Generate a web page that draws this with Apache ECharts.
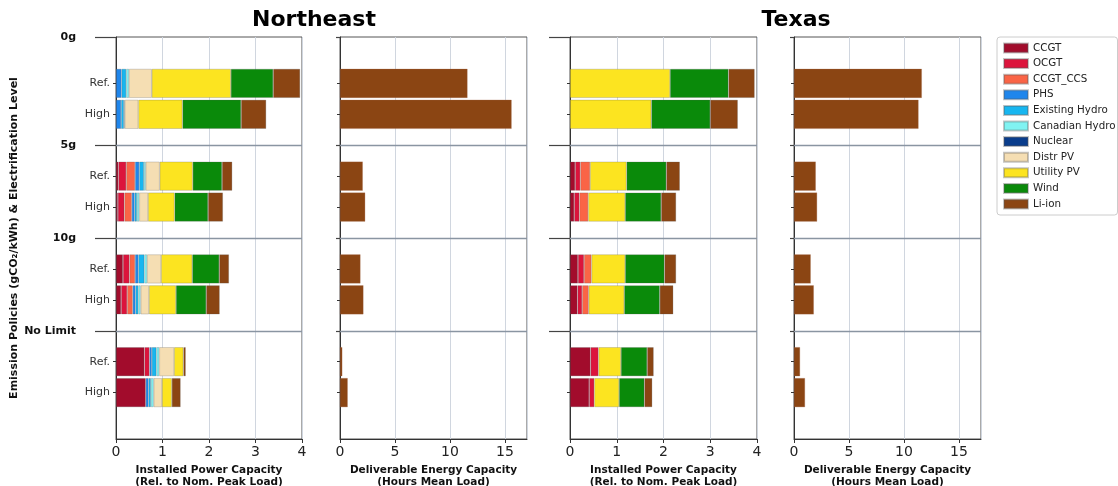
<!DOCTYPE html>
<html>
<head>
<meta charset="utf-8">
<script src="https://cdn.jsdelivr.net/npm/echarts@6/dist/echarts.min.js"></script>
<style>html,body{margin:0;padding:0;background:#fff}#c{width:1118px;height:486px}</style>
</head>
<body>
<div id="c"></div>
<script>
// Category slots on the y axis (top to bottom); blank slots carry the group separators
const slots = ['t','r0','h0','g5','r5','h5','g10','r10','h10','gNL','rNL','hNL','b'];
const rowSlots = ['r0','h0','r5','h5','r10','h10','rNL','hNL'];
const rowLabels = {r0:'Ref.',h0:'High',r5:'Ref.',h5:'High',r10:'Ref.',h10:'High',rNL:'Ref.',hNL:'High'};
const groupTickValues = [-0.5, 3, 6, 9];
const groupTickLabels = ['0g', '5g', '10g', 'No Limit'];

const techs = ['CCGT','OCGT','CCGT_CCS','PHS','Existing Hydro','Canadian Hydro','Nuclear','Distr PV','Utility PV','Wind','Li-ion'];
const techColors = ['#a20c2c','#dc143c','#fa6446','#1f86ec','#17b6f0','#80f3f2','#0a3d8c','#f5deb3','#fce420','#0a8a0a','#8b4513'];

// Rows: 0g Ref, 0g High, 5g Ref, 5g High, 10g Ref, 10g High, NoLimit Ref, NoLimit High
// Northeast installed power capacity
const neCCGT     = [0, 0, 0.05, 0.04, 0.15, 0.11, 0.61, 0.64];
const neOCGT     = [0, 0, 0.17, 0.14, 0.14, 0.13, 0.11, 0];
const neCCS      = [0, 0, 0.19, 0.16, 0.12, 0.12, 0, 0];
const nePHS      = [0.12, 0.11, 0.09, 0.06, 0.07, 0.06, 0.05, 0.06];
const neExHydro  = [0.10, 0.06, 0.10, 0.05, 0.13, 0.06, 0.10, 0.05];
const neCanHydro = [0.06, 0.02, 0.04, 0.05, 0.06, 0.05, 0.06, 0.06];
const neNuclear  = [0, 0, 0, 0, 0, 0, 0, 0];
const neDistrPV  = [0.49, 0.29, 0.30, 0.19, 0.30, 0.18, 0.32, 0.18];
const neUtilPV   = [1.70, 0.95, 0.71, 0.57, 0.67, 0.58, 0.20, 0.21];
const neWind     = [0.91, 1.26, 0.63, 0.72, 0.58, 0.65, 0, 0];
const neLiion    = [0.58, 0.54, 0.22, 0.32, 0.21, 0.29, 0.05, 0.19];
// Texas installed power capacity
const txCCGT     = [0, 0, 0.11, 0.09, 0.17, 0.16, 0.44, 0.41];
const txOCGT     = [0, 0, 0.11, 0.11, 0.13, 0.10, 0.17, 0.11];
const txCCS      = [0, 0, 0.21, 0.19, 0.16, 0.14, 0, 0];
const txPHS      = [0, 0, 0, 0, 0, 0, 0, 0];
const txExHydro  = [0, 0, 0, 0, 0, 0, 0, 0];
const txCanHydro = [0, 0, 0, 0, 0, 0, 0, 0];
const txNuclear  = [0, 0, 0, 0, 0, 0, 0, 0];
const txDistrPV  = [0, 0, 0, 0, 0, 0, 0, 0];
const txUtilPV   = [2.14, 1.74, 0.78, 0.79, 0.72, 0.76, 0.48, 0.53];
const txWind     = [1.25, 1.26, 0.85, 0.77, 0.84, 0.76, 0.56, 0.54];
const txLiion    = [0.56, 0.59, 0.29, 0.32, 0.25, 0.29, 0.14, 0.17];
// Deliverable energy capacity (hours of mean load)
const neEnergy = [11.59, 15.6, 2.07, 2.29, 1.86, 2.13, 0.21, 0.70];
const txEnergy = [11.62, 11.32, 1.98, 2.10, 1.52, 1.80, 0.55, 1.00];

const powerTicks = {min: 0, max: 4, interval: 1};
const energyTicks = {min: 0, max: 17, interval: 5};

const nePower = [neCCGT, neOCGT, neCCS, nePHS, neExHydro, neCanHydro, neNuclear, neDistrPV, neUtilPV, neWind, neLiion];
const txPower = [txCCGT, txOCGT, txCCS, txPHS, txExHydro, txCanHydro, txNuclear, txDistrPV, txUtilPV, txWind, txLiion];

const FONT = 'DejaVu Sans';
function toSlots(arr) {
  return slots.map(s => { const i = rowSlots.indexOf(s); return (i < 0 || !arr[i]) ? '-' : arr[i]; });
}

const grids = [
  {left: 116, top: 37, width: 186, height: 402},
  {left: 340, top: 37, width: 187, height: 402},
  {left: 570, top: 37, width: 187, height: 402},
  {left: 794, top: 37, width: 187, height: 402}
].map(g => Object.assign({show: true, borderColor: '#555', borderWidth: 1, backgroundColor: 'transparent',
  containLabel: false, outerBoundsMode: 'none'}, g));

const xAxis = [];
const yAxis = [];
const names = [
  'Installed Power Capacity\n(Rel. to Nom. Peak Load)',
  'Deliverable Energy Capacity\n(Hours Mean Load)',
  'Installed Power Capacity\n(Rel. to Nom. Peak Load)',
  'Deliverable Energy Capacity\n(Hours Mean Load)'
];
for (let g = 0; g < 4; g++) {
  const t = (g % 2 === 0) ? powerTicks : energyTicks;
  xAxis.push({
    type: 'value', gridIndex: g, min: t.min, max: t.max, interval: t.interval,
    name: names[g], nameLocation: 'middle', nameGap: 21,
    nameTextStyle: {fontFamily: FONT, fontWeight: 'bold', fontSize: 10.5, color: '#111', lineHeight: 12},
    axisLine: {show: true, onZero: false, lineStyle: {color: '#333'}},
    axisTick: {show: true, length: 4, lineStyle: {color: '#333'}},
    axisLabel: {fontFamily: FONT, fontSize: 14, color: '#222', margin: 6, showMaxLabel: g % 2 === 0},
    splitLine: {show: true, lineStyle: {color: '#d0d6df', width: 1}}
  });
  // category axis holding the bars
  yAxis.push({
    type: 'category', gridIndex: g, data: slots, inverse: true, position: 'left',
    axisLine: {show: true, onZero: false, lineStyle: {color: '#333'}},
    axisTick: {show: true, length: 3, alignWithLabel: true, lineStyle: {color: '#333'},
      interval: (i, v) => !!rowLabels[v]},
    axisLabel: {show: g === 0, interval: 0, margin: 6, fontFamily: FONT, fontSize: 11, color: '#333',
      formatter: v => rowLabels[v] || ''},
    splitLine: {show: false}
  });
}
for (let g = 0; g < 4; g++) {
  // value axis aligned with the category slots, used for the group ticks/labels
  yAxis.push({
    type: 'value', gridIndex: g, min: -0.5, max: 12.5, inverse: true, position: 'left',
    axisLine: {show: false, onZero: false},
    axisTick: {show: true, customValues: groupTickValues, length: (g % 2 === 0) ? 21 : 4,
      lineStyle: {color: '#444', width: 1.2}},
    axisLabel: {show: g === 0, customValues: groupTickValues, margin: 40, fontFamily: FONT,
      fontSize: 11, fontWeight: 'bold', color: '#111',
      formatter: v => groupTickLabels[groupTickValues.indexOf(v)] || ''},
    splitLine: {show: false},
    name: g === 0 ? 'Emission Policies (gCO\u2082/kWh) & Electrification Level' : '',
    nameLocation: 'middle', nameRotate: 90, nameGap: 96,
    nameTextStyle: {fontFamily: FONT, fontWeight: 'bold', fontSize: 11, color: '#111'}
  });
}

const sepLine = {
  silent: true, symbol: 'none', label: {show: false},
  lineStyle: {color: '#8a95a2', width: 1.3, type: 'solid'},
  data: [{yAxis: 'g5'}, {yAxis: 'g10'}, {yAxis: 'gNL'}]
};
const barStyle = (c) => ({color: c, borderColor: 'rgba(90,90,90,0.35)', borderWidth: 0.7});

const series = [];
[[nePower, 0, 'ne'], [txPower, 2, 'tx']].forEach(([arrs, g, st]) => {
  techs.forEach((name, k) => {
    const s = {
      type: 'bar', name: name, stack: st, xAxisIndex: g, yAxisIndex: g,
      barWidth: '94%', data: toSlots(arrs[k]), itemStyle: barStyle(techColors[k]),
      emphasis: {disabled: true}
    };
    if (k === 0) s.markLine = sepLine;
    series.push(s);
  });
});
[[neEnergy, 1], [txEnergy, 3]].forEach(([arr, g]) => {
  series.push({
    type: 'bar', name: 'Li-ion', xAxisIndex: g, yAxisIndex: g, barWidth: '94%',
    data: toSlots(arr), itemStyle: {color: techColors[10], borderColor: 'rgba(160,100,70,0.6)', borderWidth: 0.5},
    markLine: sepLine, emphasis: {disabled: true}
  });
});

const chart = echarts.init(document.getElementById('c'), null, {renderer: 'canvas'});
chart.setOption({
  animation: false,
  backgroundColor: '#fff',
  textStyle: {fontFamily: FONT},
  title: [
    {text: 'Northeast', left: 309, top: 4, textAlign: 'center',
      textStyle: {fontFamily: FONT, fontWeight: 'bold', fontSize: 22, color: '#000'}},
    {text: 'Texas', left: 791, top: 4, textAlign: 'center',
      textStyle: {fontFamily: FONT, fontWeight: 'bold', fontSize: 22, color: '#000'}}
  ],
  legend: {
    orient: 'vertical', left: 997, top: 37, data: techs,
    itemWidth: 24, itemHeight: 9, itemGap: 3.6, icon: 'rect',
    padding: [5, 2, 5, 6], borderColor: '#ccc', borderWidth: 1, borderRadius: 3,
    textStyle: {fontFamily: FONT, fontSize: 10.3, color: '#222', lineHeight: 12},
    selectedMode: false
  },
  grid: grids,
  xAxis: xAxis,
  yAxis: yAxis,
  series: series
});
</script>
</body>
</html>
